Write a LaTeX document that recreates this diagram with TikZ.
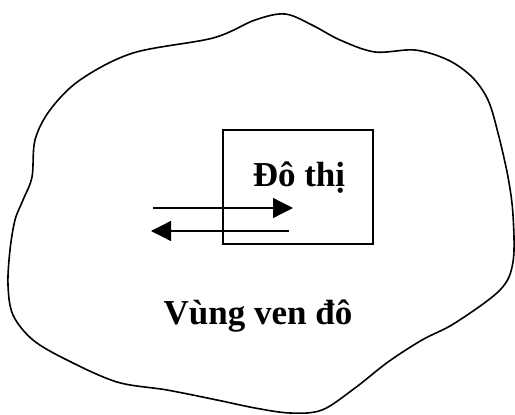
\documentclass[tikz,border=0pt]{standalone}
\usepackage{fontspec}
\setmainfont{Liberation Serif}
\usepackage{tikz}
\usetikzlibrary{arrows.meta,positioning,calc}

\begin{document}
\begin{tikzpicture}[x=1pt,y=-1pt,
	>={Triangle[length=20pt,width=20pt]},
	semithick, font=\fontsize{35}{40}\selectfont\bfseries]

	\tikzstyle{zone}=[line width=1.6pt]
	\tikzstyle{city}=[rectangle, draw, line width=1.6pt,
	minimum width=150pt, minimum height=114pt, inner sep=0pt]
	\tikzstyle{flow}=[->, line width=1.3pt]

	\useasboundingbox (0,0) rectangle (515,415);

	%outer zone
	\draw[zone] plot[smooth cycle, tension=0.55] coordinates {
		(285,14) (312,25) (340,40) (375,52) (415,50) (448,60)
		(472,77) (488,100) (498,133) (508,177) (513,215) (513,262)
		(500,290) (455,323) (422,340) (388,362) (355,388) (322,410)
		(290,413) (255,408) (217,400) (167,390) (117,382) (67,360)
		(33,340) (13,315) (8,285) (10,250) (15,220) (23,200)
		(32,177) (35,140) (50,110) (80,80) (133,53) (213,38) (255,20)};

	%city
	\node[city]
	(dothi) at (298,187)
	{};

	\node
	(dothiLabel) at (299,178)
	{Đô thị};

	\node
	(venLabel) at (258,316)
	{Vùng ven đô};

	\coordinate (outA) at (153,208);
	\coordinate (inA) at (293,208);
	\coordinate (inB) at (289,231);
	\coordinate (outB) at (151,231);

	\draw[flow] (outA) -- (inA);
	\draw[flow] (inB) -- (outB);

\end{tikzpicture}
\end{document}
